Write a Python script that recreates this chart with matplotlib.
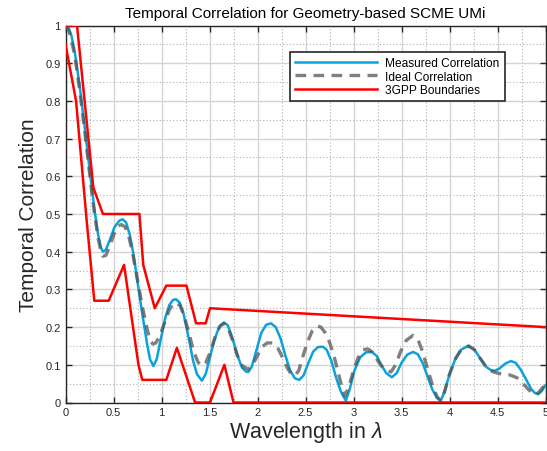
import matplotlib
matplotlib.use("Agg")
import matplotlib.pyplot as plt
import numpy as np
from matplotlib.ticker import MultipleLocator

plt.rcParams['font.family'] = ['Liberation Sans', 'DejaVu Sans']
plt.rcParams['mathtext.fontset'] = 'custom'
plt.rcParams['mathtext.it'] = 'Liberation Sans:italic'

# Measured correlation
meas_x = [0, 0.03, 0.06, 0.1, 0.15, 0.2, 0.25, 0.3, 0.34, 0.37, 0.39, 0.42, 0.46, 0.51, 0.56, 0.595,
          0.63, 0.67, 0.71, 0.75, 0.8, 0.85, 0.88, 0.915, 0.95, 0.99, 1.04, 1.08, 1.12, 1.15, 1.19,
          1.23, 1.28, 1.33, 1.37, 1.42, 1.46, 1.5, 1.55, 1.6, 1.65, 1.69, 1.74, 1.79, 1.84, 1.88,
          1.905, 1.94, 1.99, 2.04, 2.09, 2.14, 2.19, 2.24, 2.29, 2.34, 2.39, 2.435, 2.48, 2.53,
          2.58, 2.63, 2.68, 2.72, 2.77, 2.82, 2.87, 2.92, 2.96, 3.01, 3.07, 3.13, 3.19, 3.24, 3.29,
          3.34, 3.4, 3.45, 3.5, 3.56, 3.62, 3.67, 3.72, 3.77, 3.82, 3.87, 3.91, 3.95, 4.0, 4.06,
          4.12, 4.195, 4.26, 4.32, 4.38, 4.43, 4.47, 4.52, 4.58, 4.64, 4.69, 4.74, 4.8, 4.85, 4.89,
          4.925, 4.96, 5.0]
meas_y = [1.0, 0.995, 0.975, 0.925, 0.835, 0.73, 0.62, 0.515, 0.445, 0.41, 0.40, 0.405, 0.43, 0.465,
          0.482, 0.486, 0.478, 0.445, 0.39, 0.32, 0.235, 0.155, 0.115, 0.097, 0.115, 0.165, 0.225,
          0.258, 0.272, 0.274, 0.265, 0.235, 0.175, 0.11, 0.075, 0.058, 0.075, 0.115, 0.165, 0.2,
          0.212, 0.205, 0.17, 0.125, 0.092, 0.082, 0.081, 0.095, 0.14, 0.185, 0.206, 0.21, 0.2,
          0.17, 0.125, 0.085, 0.064, 0.06, 0.072, 0.105, 0.135, 0.147, 0.148, 0.14, 0.11, 0.065,
          0.028, 0.005, 0.035, 0.085, 0.12, 0.133, 0.134, 0.124, 0.1, 0.078, 0.067, 0.078, 0.105,
          0.127, 0.134, 0.128, 0.105, 0.07, 0.035, 0.012, 0.005, 0.03, 0.075, 0.115, 0.14, 0.15,
          0.14, 0.117, 0.095, 0.086, 0.084, 0.09, 0.103, 0.11, 0.105, 0.088, 0.06, 0.036, 0.025,
          0.022, 0.03, 0.046]

# Ideal correlation
ideal_x = [0, 0.03, 0.06, 0.1, 0.15, 0.2, 0.25, 0.3, 0.34, 0.37, 0.39, 0.42, 0.46, 0.51, 0.55, 0.58,
           0.62, 0.66, 0.7, 0.75, 0.8, 0.85, 0.88, 0.91, 0.94, 0.98, 1.03, 1.08, 1.12, 1.15, 1.19,
           1.23, 1.28, 1.33, 1.38, 1.42, 1.46, 1.51, 1.56, 1.61, 1.65, 1.69, 1.74, 1.79, 1.84, 1.9,
           1.95, 2.0, 2.05, 2.1, 2.16, 2.21, 2.26, 2.31, 2.35, 2.39, 2.43, 2.47, 2.52, 2.57, 2.62,
           2.66, 2.7, 2.75, 2.8, 2.85, 2.88, 2.91, 2.95, 3.0, 3.05, 3.1, 3.15, 3.2, 3.26, 3.32, 3.39,
           3.44, 3.49, 3.55, 3.62, 3.67, 3.72, 3.77, 3.82, 3.87, 3.91, 3.95, 4.0, 4.06, 4.12, 4.2,
           4.26, 4.32, 4.38, 4.43, 4.47, 4.55, 4.63, 4.7, 4.76, 4.82, 4.87, 4.9, 4.95, 5.0]
ideal_y = [1.0, 0.99, 0.965, 0.915, 0.825, 0.72, 0.61, 0.505, 0.435, 0.40, 0.388, 0.39, 0.415, 0.45,
           0.468, 0.472, 0.466, 0.44, 0.395, 0.325, 0.255, 0.195, 0.165, 0.155, 0.158, 0.175, 0.21,
           0.245, 0.262, 0.265, 0.258, 0.235, 0.19, 0.14, 0.107, 0.097, 0.105, 0.135, 0.175, 0.203,
           0.21, 0.2, 0.165, 0.125, 0.098, 0.088, 0.1, 0.125, 0.148, 0.158, 0.158, 0.145, 0.12, 0.092,
           0.076, 0.071, 0.085, 0.12, 0.16, 0.19, 0.203, 0.2, 0.187, 0.16, 0.12, 0.07, 0.04, 0.018,
           0.04, 0.085, 0.12, 0.14, 0.142, 0.133, 0.108, 0.087, 0.081, 0.1, 0.135, 0.165, 0.178,
           0.168, 0.135, 0.09, 0.048, 0.015, 0.005, 0.03, 0.075, 0.115, 0.14, 0.15, 0.14, 0.117,
           0.095, 0.084, 0.08, 0.075, 0.073, 0.066, 0.052, 0.035, 0.024, 0.02, 0.033, 0.05]

# 3GPP boundaries
upper_x = [0, 0.12, 0.29, 0.39, 0.77, 0.81, 0.93, 1.05, 1.26, 1.36, 1.46, 1.505, 5.0]
upper_y = [1.0, 1.0, 0.57, 0.50, 0.50, 0.365, 0.25, 0.31, 0.31, 0.21, 0.21, 0.25, 0.20]
lower_x = [0, 0.11, 0.22, 0.30, 0.45, 0.61, 0.76, 0.80, 1.05, 1.16, 1.35, 1.505, 1.655, 1.75, 5.0]
lower_y = [0.95, 0.80, 0.484, 0.27, 0.27, 0.365, 0.10, 0.06, 0.06, 0.145, 0.0, 0.0, 0.10, 0.0, 0.0]

x_ticks = np.arange(0, 5.01, 0.5)
y_ticks = np.arange(0, 1.01, 0.1)
x_tick_labels = ['0', '0.5', '1', '1.5', '2', '2.5', '3', '3.5', '4', '4.5', '5']
y_tick_labels = ['0', '0.1', '0.2', '0.3', '0.4', '0.5', '0.6', '0.7', '0.8', '0.9', '1']

fig = plt.figure(figsize=(5.47, 4.52), dpi=100)
ax = fig.add_axes([65.5 / 547, (452 - 403.5) / 452, 480 / 547, 377 / 452])

ax.plot(meas_x, meas_y, color='#0aa2dc', lw=1.8, label='Measured Correlation', zorder=3,
        solid_joinstyle='round')
ax.plot(ideal_x, ideal_y, color='#555555', alpha=0.75, lw=2.4, ls=(0, (3.2, 2.2)),
        label='Ideal Correlation', zorder=4)
ax.plot(upper_x, upper_y, color='#ff0000', lw=1.8, label='3GPP Boundaries', zorder=5)
ax.plot(lower_x, lower_y, color='#ff0000', lw=1.8, zorder=5)

ax.set_xlim(0, 5)
ax.set_ylim(0, 1)
ax.set_xticks(x_ticks)
ax.set_xticklabels(x_tick_labels)
ax.set_yticks(y_ticks)
ax.set_yticklabels(y_tick_labels)
ax.xaxis.set_minor_locator(MultipleLocator(0.25))
ax.yaxis.set_minor_locator(MultipleLocator(0.05))
ax.grid(which='major', color='#d4d4d4', lw=1.0, ls='-')
ax.grid(which='minor', color='#b0b0b0', lw=0.8, ls=(0, (1, 2)))
ax.set_axisbelow(True)
ax.tick_params(which='both', direction='in', top=True, right=True, labelsize=8,
               colors='#262626', width=1.0)
ax.tick_params(which='major', length=4)
ax.tick_params(which='minor', length=0)
for s in ax.spines.values():
    s.set_color('#262626')
    s.set_linewidth(1.0)

ax.set_title('Temporal Correlation for Geometry-based SCME UMi', fontsize=11, pad=6)
ax.set_xlabel(r'Wavelength in $\lambda$', fontsize=15.5, color='#262626', labelpad=1)
ax.set_ylabel('Temporal Correlation', fontsize=15, color='#262626', labelpad=5)

leg = ax.legend(loc='upper left', bbox_to_anchor=(0.4677, 0.9305), borderaxespad=0,
                fontsize=8.6, handlelength=6.8, fancybox=False, framealpha=1,
                edgecolor='#262626', borderpad=0.45, labelspacing=0.12, handletextpad=0.7)
leg.get_frame().set_linewidth(1.2)

fig.savefig('out.png', dpi=100)
